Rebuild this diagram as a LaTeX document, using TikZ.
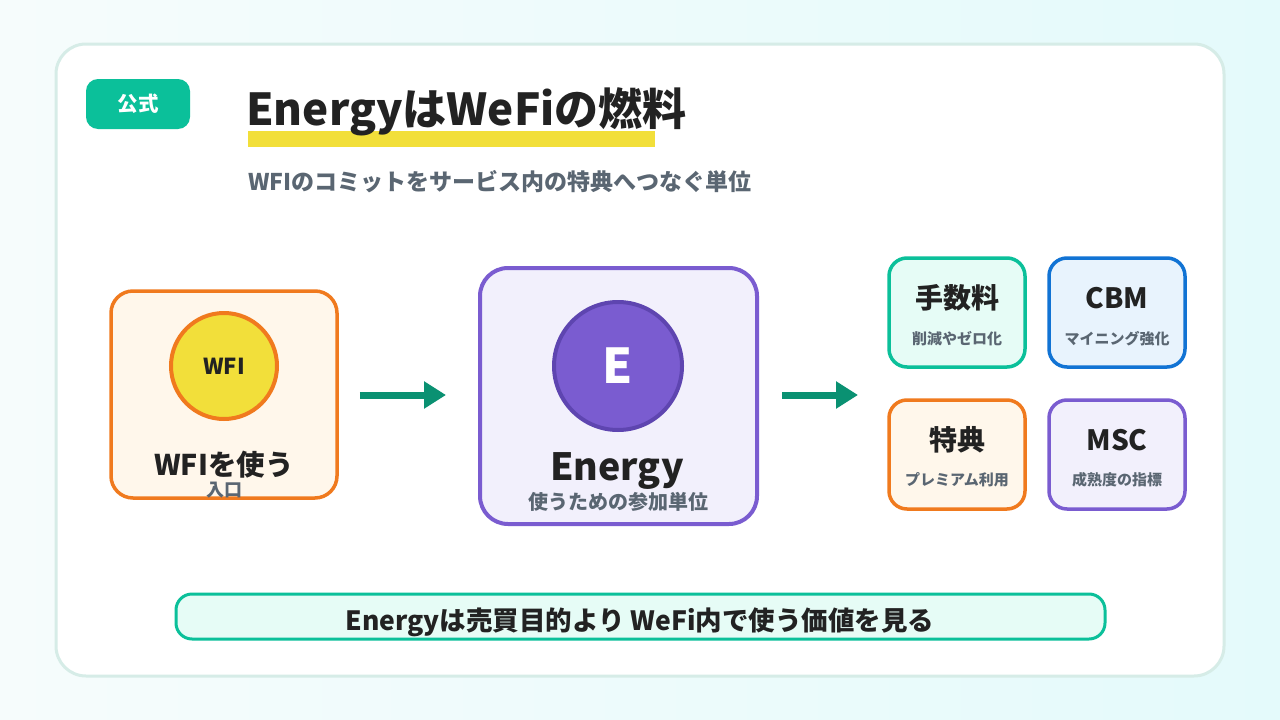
\documentclass[tikz,border=0pt]{standalone}
\usepackage{fontspec}
\setmainfont{Noto Sans CJK JP}
\usetikzlibrary{arrows.meta}
\definecolor{bgA}{HTML}{F6FCFC}
\definecolor{bgB}{HTML}{E4FAFB}
\definecolor{cardline}{HTML}{D6ECE7}
\definecolor{teal}{HTML}{0BC09A}
\definecolor{tealfill}{HTML}{E6FCF6}
\definecolor{orange}{HTML}{F07A1E}
\definecolor{orangefill}{HTML}{FFF7EB}
\definecolor{purple}{HTML}{7A5CD0}
\definecolor{purplefill}{HTML}{F2F0FC}
\definecolor{purpledark}{HTML}{5E45B0}
\definecolor{blue}{HTML}{1173D4}
\definecolor{bluefill}{HTML}{E8F3FD}
\definecolor{yellow}{HTML}{F2DF3A}
\definecolor{ink}{HTML}{222222}
\definecolor{gray}{HTML}{5A6672}
\definecolor{arrowc}{HTML}{0A9172}
\tikzset{
  box/.style={draw, rounded corners=#1, line width=3.5pt, inner sep=0pt},
  arr/.style={draw=arrowc, line width=7pt, -{Triangle[length=22pt,width=26pt]}},
  ttl/.style={font=\bfseries\fontsize{28pt}{32pt}\selectfont, text=ink, inner sep=0pt},
  sub/.style={font=\bfseries\fontsize{15pt}{17pt}\selectfont, text=gray, inner sep=0pt},
}
\begin{document}
\begin{tikzpicture}[x=1pt,y=-1pt]
\useasboundingbox (0,0) rectangle (1280,720);
\shade[left color=bgA, right color=bgB] (0,0) rectangle (1280,720);
% card
\node[draw=cardline, fill=white, line width=3pt, rounded corners=30pt, minimum width=1168pt, minimum height=632pt, inner sep=0pt] (card) at (640,360) {};
% badge
\node[fill=teal, rounded corners=12pt, minimum width=104pt, minimum height=50pt, inner sep=0pt, text=white, font=\bfseries\fontsize{20.5pt}{23pt}\selectfont] (badge) at (138,104) {公式};
% title
\fill[yellow] (248,131) rectangle (655,147);
\node[anchor=base west, inner sep=0pt, text=ink, font=\bfseries\fontsize{44pt}{50pt}\selectfont] (title) at (246,125) {EnergyはWeFiの燃料};
\node[anchor=base west, inner sep=0pt, text=gray, font=\bfseries\fontsize{23pt}{26pt}\selectfont] (subtitle) at (248,190) {WFIのコミットをサービス内の特典へつなぐ単位};
% WFI box
\node[box=22pt, draw=orange, fill=orangefill, minimum width=226pt, minimum height=207pt] (wfi) at (224,394.5) {};
\node[circle, draw=orange, fill=yellow, line width=4pt, minimum size=106pt, inner sep=0pt, text=ink, font=\bfseries\fontsize{22pt}{25pt}\selectfont] (wficirc) at (224,366) {WFI};
\node[ttl, font=\bfseries\fontsize{28.5pt}{32pt}\selectfont] (wfiT) at (224,465) {WFIを使う};
\node[sub, font=\bfseries\fontsize{18pt}{20pt}\selectfont] (wfiS) at (224,490) {入口};
% Energy box
\node[box=28pt, draw=purple, fill=purplefill, line width=4pt, minimum width=277pt, minimum height=256pt] (energy) at (618.5,396) {};
\node[circle, draw=purpledark, fill=purple, line width=4pt, minimum size=128pt, inner sep=0pt, text=white, font=\bfseries\fontsize{48pt}{52pt}\selectfont] (ecirc) at (618,366) {E};
\node[ttl, font=\bfseries\fontsize{37.5pt}{42pt}\selectfont] (eT) at (617,471) {Energy};
\node[sub, font=\bfseries\fontsize{20pt}{23pt}\selectfont] (eS) at (618,502) {使うための参加単位};
% right boxes
\node[box=18pt, draw=teal, fill=tealfill, minimum width=136pt, minimum height=109pt] (fee) at (957,312.5) {};
\node[ttl] (feeT) at (957,298) {手数料};
\node[sub] (feeS) at (957,339) {削減やゼロ化};
\node[box=18pt, draw=blue, fill=bluefill, minimum width=136pt, minimum height=109pt] (cbm) at (1117,312.5) {};
\node[ttl] (cbmT) at (1117,298) {CBM};
\node[sub] (cbmS) at (1117,339) {マイニング強化};
\node[box=18pt, draw=orange, fill=orangefill, minimum width=136pt, minimum height=109pt] (perk) at (957,454.5) {};
\node[ttl] (perkT) at (957,440) {特典};
\node[sub] (perkS) at (957,480) {プレミアム利用};
\node[box=18pt, draw=purple, fill=purplefill, minimum width=136pt, minimum height=109pt] (msc) at (1117,454.5) {};
\node[ttl] (mscT) at (1117,440) {MSC};
\node[sub] (mscS) at (1117,480) {成熟度の指標};
% arrows
\coordinate (a2e) at (858,395);
\draw[arr] ([xshift=21pt]wfi.east |- a2e) -- ([xshift=-32pt]energy.west |- a2e);
\draw[arr] ([xshift=23pt]energy.east |- a2e) -- (a2e);
% banner
\node[box=16pt, draw=teal, fill=tealfill, line width=3pt, minimum width=929pt, minimum height=45pt] (banner) at (640.5,616.5) {};
\node[ttl, font=\bfseries\fontsize{26.5pt}{30pt}\selectfont] (bannerT) at (640,622) {Energyは売買目的より WeFi内で使う価値を見る};
\end{tikzpicture}
\end{document}
